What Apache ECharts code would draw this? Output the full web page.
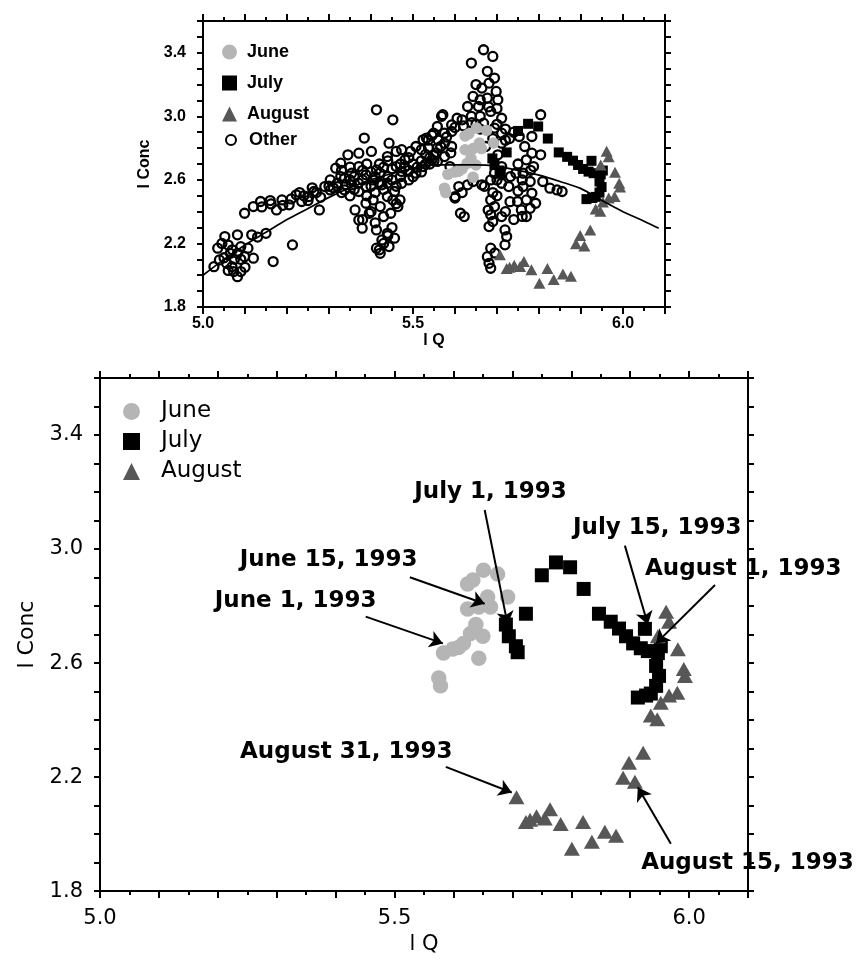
<!DOCTYPE html>
<html><head><meta charset="utf-8">
<script src="https://cdn.jsdelivr.net/npm/echarts@6/dist/echarts.min.js"></script>
<style>html,body{margin:0;padding:0;background:#fff}#c{width:861px;height:960px}</style>
</head><body><div id="c"></div>
<script>
// ---------------- data (l Q, l Conc) ----------------
const juneData = [[5.575,2.548],[5.578,2.52],[5.583,2.635],[5.599,2.649],[5.609,2.655],[5.617,2.669],[5.629,2.704],[5.638,2.735],[5.650,2.694],[5.643,2.617],[5.624,2.79],[5.643,2.797],[5.663,2.797],[5.658,2.832],[5.692,2.832],[5.624,2.877],[5.633,2.891],[5.651,2.926],[5.675,2.912]];
const julyData = [[5.689,2.735],[5.694,2.694],[5.706,2.659],[5.709,2.638],[5.723,2.773],[5.750,2.908],[5.774,2.953],[5.798,2.936],[5.821,2.86],[5.847,2.773],[5.867,2.745],[5.881,2.721],[5.893,2.694],[5.905,2.669],[5.918,2.652],[5.925,2.72],[5.930,2.642],[5.947,2.635],[5.952,2.659],[5.944,2.59],[5.949,2.555],[5.944,2.52],[5.935,2.493],[5.927,2.486],[5.913,2.479]];
const augustData = [[5.961,2.78],[5.966,2.745],[5.947,2.694],[5.981,2.648],[5.991,2.579],[5.993,2.555],[5.98,2.496],[5.966,2.486],[5.952,2.461],[5.935,2.416],[5.946,2.403],[5.922,2.285],[5.898,2.25],[5.888,2.198],[5.908,2.184],[5.707,2.129],[5.723,2.042],[5.73,2.05],[5.741,2.063],[5.755,2.055],[5.764,2.087],[5.782,2.035],[5.82,2.042],[5.801,1.949],[5.835,1.973],[5.857,2.008],[5.876,1.994]];
const otherData = [
 [5.035,2.17],[5.052,2.243],[5.082,2.254],[5.116,2.254],[5.039,2.096],[5.056,2.075],[5.073,2.023],[5.082,1.991],[5.09,2.023],[5.065,2.138],[5.082,2.138],[5.099,2.117],[5.12,2.107],[5.107,2.17],[5.09,2.18],[5.15,2.264],[5.213,2.191],[5.167,2.086],[5.026,2.054],[5.069,2.054],[5.045,2.2],[5.06,2.19],[5.075,2.1],[5.1,2.05],[5.13,2.24],
 [5.05,2.11],[5.07,2.16],[5.09,2.1],[5.06,2.03],
 [5.099,2.39],[5.12,2.432],[5.137,2.464],[5.162,2.449],[5.175,2.411],[5.188,2.474],[5.205,2.443],[5.222,2.506],[5.235,2.464],[5.252,2.495],[5.264,2.527],[5.277,2.411],[5.29,2.558],[5.303,2.537],[5.32,2.558],[5.316,2.674],[5.328,2.705],[5.345,2.758],[5.337,2.611],[5.354,2.642],[5.371,2.768],[5.384,2.863],[5.371,2.684],[5.388,2.632],[5.401,2.779],[5.413,3.041],[5.452,2.978],[5.413,2.663],[5.426,2.569],[5.439,2.747],[5.443,2.831],[5.46,2.779],[5.46,2.684],[5.473,2.653],[5.481,2.726],[5.494,2.779],[5.507,2.81],[5.524,2.852],[5.537,2.8],[5.549,2.758],[5.566,2.81],[5.575,2.894],[5.571,3.01],[5.605,2.988],[5.592,2.905],[5.558,2.716],[5.524,2.684],[5.507,2.642],[5.49,2.6],[5.473,2.579],[5.456,2.527],[5.439,2.579],[5.422,2.642],[5.405,2.6],[5.388,2.558],[5.371,2.527],[5.354,2.569],[5.337,2.537],[5.303,2.6],[5.328,2.621],
 [5.21,2.48],[5.24,2.5],[5.27,2.52],[5.28,2.49],[5.31,2.55],[5.35,2.6],[5.36,2.54],[5.38,2.6],[5.4,2.65],[5.42,2.7],[5.44,2.62],[5.45,2.67],[5.47,2.7],[5.49,2.66],[5.5,2.7],[5.52,2.72],[5.53,2.76],[5.54,2.7],[5.555,2.77],[5.56,2.85],[5.545,2.88],[5.52,2.79],
 [5.32,2.58],[5.33,2.66],[5.34,2.57],[5.35,2.68],[5.36,2.62],[5.37,2.58],[5.38,2.66],[5.39,2.7],[5.4,2.56],[5.41,2.62],[5.42,2.58],[5.43,2.68],[5.44,2.72],[5.45,2.6],[5.46,2.56],[5.47,2.62],[5.48,2.68],[5.49,2.74],[5.5,2.62],[5.51,2.68],[5.52,2.65],[5.53,2.7],[5.54,2.74],[5.55,2.72],[5.43,2.54],[5.41,2.52],[5.39,2.5],[5.35,2.5],[5.33,2.52],[5.3,2.56],[5.26,2.55],[5.25,2.47],[5.23,2.52],[5.19,2.44],[5.16,2.47],[5.14,2.43],
 [5.362,2.411],[5.371,2.348],[5.379,2.296],[5.396,2.39],[5.405,2.474],[5.413,2.285],[5.413,2.17],[5.422,2.138],[5.426,2.222],[5.439,2.264],[5.456,2.233],[5.443,2.18],[5.43,2.369],[5.447,2.39],[5.464,2.432],[5.452,2.474],[5.469,2.474],[5.439,2.495],[5.422,2.432],[5.388,2.453],[5.43,2.2],[5.45,2.3],[5.41,2.33],
 [5.42,2.16],[5.44,2.25],[5.4,2.4],[5.46,2.45],[5.38,2.35],
 [5.532,2.863],[5.558,2.936],[5.592,2.946],[5.617,2.978],[5.549,2.894],[5.575,2.831],[5.558,2.8],[5.545,2.726],[5.575,2.747],[5.592,2.81],[5.588,2.684],[5.6,2.495],[5.613,2.39],[5.622,2.369],[5.609,2.558],[5.63,2.569],[5.643,2.59],[5.664,2.569],
 [5.711,2.831],[5.702,2.758],[5.711,2.684],[5.685,2.6],[5.694,2.642],[5.685,2.474],[5.694,2.432],[5.685,2.38],[5.69,2.338],[5.681,2.306],[5.711,2.369],[5.719,2.285],[5.723,2.243],[5.719,2.191],[5.685,2.17],[5.677,2.117],[5.681,2.075],[5.685,2.044],[5.711,2.579],[5.732,2.621],[5.728,2.558],[5.745,2.642],[5.749,2.464],[5.679,2.41],[5.695,2.14],[5.731,2.463],[5.75,2.53],[5.6,2.486],[5.617,2.52],[5.67,2.56],[5.7,2.6],
 [5.7,2.5],[5.72,2.4],[5.69,2.52],[5.76,2.6],[5.78,2.66],[5.75,2.7],[5.74,2.35],[5.76,2.37],
 [5.804,3.01],[5.783,2.873],[5.753,2.873],[5.783,2.768],[5.77,2.726],[5.787,2.684],[5.762,2.642],[5.779,2.59],[5.762,2.558],[5.783,2.516],[5.77,2.474],[5.779,2.421],[5.77,2.369],[5.792,2.453],[5.758,2.411],[5.766,2.81],[5.804,2.758],
 [5.809,2.59],[5.826,2.548],[5.843,2.537],[5.855,2.527],
 [5.668,3.419],[5.69,3.377],[5.639,3.335],[5.677,3.283],[5.694,3.241],[5.664,3.178],[5.698,3.157],[5.643,3.125],[5.677,3.115],[5.702,3.104],[5.656,3.062],[5.685,3.031],[5.639,3.0],[5.711,2.988],[5.668,2.957],[5.694,2.926],[5.711,2.894],[5.66,3.104],[5.681,3.209],[5.63,3.062],[5.673,2.81],[5.536,2.85],[5.568,3.0],[5.473,2.79],
 [5.65,2.95],[5.7,2.95],[5.72,2.92],[5.74,2.9],[5.73,2.86],
 [5.66,3.0],[5.68,3.06],[5.65,3.2],[5.7,3.05],[5.66,2.92],[5.69,2.86],[5.72,2.85],[5.64,2.96],[5.62,2.94],[5.6,2.93],[5.58,2.87],[5.59,2.77]
];
const fitCurve = [[5.00,2.00],[5.05,2.10],[5.10,2.19],[5.15,2.27],[5.20,2.35],[5.25,2.42],[5.30,2.49],[5.35,2.55],[5.40,2.60],[5.45,2.64],[5.50,2.67],[5.55,2.695],[5.60,2.695],[5.65,2.695],[5.69,2.69],[5.75,2.66],[5.80,2.63],[5.85,2.59],[5.90,2.545],[5.95,2.47],[6.00,2.40],[6.05,2.34],[6.085,2.295]];
const annotTexts = ['June 1, 1993','June 15, 1993','July 1, 1993','July 15, 1993','August 1, 1993','August 15, 1993','August 31, 1993'];
const annotAt = [[5.332,2.818],[5.388,2.96],[5.663,3.2],[5.946,3.074],[6.092,2.929],[6.099,1.897],[5.418,2.288]];
const arrowFrom = [[5.451,2.763],[5.526,2.901],[5.653,3.137],[5.891,3.012],[6.044,2.874],[5.969,1.966],[5.587,2.236]];
const arrowTo = [[5.582,2.669],[5.653,2.808],[5.692,2.735],[5.930,2.735],[5.944,2.669],[5.913,2.164],[5.699,2.146]];
const xTickLabels = ['5.0','5.5','6.0'];
const yTickLabels = ['1.8','2.2','2.6','3.0','3.4'];
const seriesNames = ['June','July','August','Other'];

// ---------------- styling ----------------
const JUNE_C = '#b5b5b5', JULY_C = '#000000', AUG_C = '#575757';
const topFont = {fontFamily:'Liberation Sans', fontWeight:'bold', color:'#000'};
const botFont = {fontFamily:'DejaVu Sans', color:'#000'};

const xFmt = v => { const s = (Math.round(v*10)/10).toFixed(1); return xTickLabels.includes(s) ? s : ''; };
const yFmt = v => { const s = (Math.round(v*10)/10).toFixed(1); return yTickLabels.includes(s) ? s : ''; };

function xAxis(grid, pos, show, font, size, margin, nameGap) {
  return {type:'value', gridIndex:grid, position:pos, min:5.0, max:6.1, interval:0.1,
    axisLine:{show:true, onZero:false, lineStyle:{color:'#000', width:2}},
    axisTick:{show:true, inside:false, length:7, lineStyle:{color:'#000', width:2}},
    minorTick:{show:true, splitNumber:2, length:4, lineStyle:{color:'#000', width:2}},
    splitLine:{show:false}, minorSplitLine:{show:false},
    axisLabel:Object.assign({show:show, formatter:xFmt, margin:margin, fontSize:size}, font),
    name: show ? 'l Q' : '', nameLocation:'middle', nameGap:nameGap,
    nameTextStyle:Object.assign({fontSize:size}, font)};
}
function yAxis(grid, pos, show, font, size, margin, nameGap, nameSize) {
  return {type:'value', gridIndex:grid, position:pos, min:1.8, max:3.6, interval:0.1,
    axisLine:{show:true, onZero:false, lineStyle:{color:'#000', width:2}},
    axisTick:{show:true, inside:false, length:6, lineStyle:{color:'#000', width:2}},
    splitLine:{show:false},
    axisLabel:Object.assign({show:show, formatter:yFmt, margin:margin, fontSize:size}, font),
    name: show ? 'l Conc' : '', nameLocation:'middle', nameGap:nameGap, nameRotate:90,
    nameTextStyle:Object.assign({fontSize:nameSize}, font)};
}

const chart = echarts.init(document.getElementById('c'), null, {renderer:'canvas'});
const option = {
  backgroundColor:'#ffffff',
  animation:false,
  grid:[
    {left:203, top:21, width:462, height:286},
    {left:100, top:378, width:648, height:520}
  ],
  xAxis:[
    xAxis(0,'bottom',true,topFont,16,9,22),
    xAxis(0,'top',false,topFont,16,9,22),
    xAxis(1,'bottom',true,botFont,21,17,41),
    xAxis(1,'top',false,botFont,21,17,41)
  ],
  yAxis:[
    yAxis(0,'left',true,topFont,16,17,45,16),
    yAxis(0,'right',false,topFont,16,17,45,16),
    yAxis(1,'left',true,botFont,21,17,52,22),
    yAxis(1,'right',false,botFont,21,17,52,22)
  ],
  legend:[
    {orient:'vertical', left:217, top:38, itemWidth:15, itemHeight:15, itemGap:13, selectedMode:false,
     data:[{name:seriesNames[0], icon:'circle'},{name:seriesNames[1], icon:'rect'},{name:seriesNames[2], icon:'triangle'}],
     textStyle:Object.assign({fontSize:18, padding:[0,0,0,5]}, topFont)},
    {orient:'vertical', left:220, top:126, itemWidth:10, itemHeight:10, selectedMode:false,
     data:[{name:seriesNames[3], icon:'circle', itemStyle:{color:'rgba(0,0,0,0)', borderColor:'#000', borderWidth:2}}],
     textStyle:Object.assign({fontSize:18, padding:[0,0,0,8]}, topFont)},
    {orient:'vertical', left:118, top:395, itemWidth:17, itemHeight:17, itemGap:7, selectedMode:false,
     data:[{name:seriesNames[0], icon:'circle'},{name:seriesNames[1], icon:'rect'},{name:seriesNames[2], icon:'triangle'}],
     textStyle:Object.assign({fontSize:23, padding:[0,0,0,16]}, botFont)}
  ],
  series:[
    {name:'Other', type:'scatter', xAxisIndex:0, yAxisIndex:0, data:otherData, symbol:'circle', symbolSize:9,
     itemStyle:{color:'rgba(0,0,0,0)', borderColor:'#000', borderWidth:2.3, opacity:1}},
    {name:'June', type:'scatter', xAxisIndex:0, yAxisIndex:0, data:juneData, symbol:'circle', symbolSize:11.5, itemStyle:{color:JUNE_C, opacity:1}},
    {name:'fit', type:'line', xAxisIndex:0, yAxisIndex:0, data:fitCurve, showSymbol:false, symbol:'none', smooth:0.3,
     lineStyle:{color:'#000', width:1.7}},
    {name:'July', type:'scatter', xAxisIndex:0, yAxisIndex:0, data:julyData, symbol:'rect', symbolSize:10, itemStyle:{color:JULY_C, opacity:1}},
    {name:'August', type:'scatter', xAxisIndex:0, yAxisIndex:0, data:augustData, symbol:'triangle', symbolSize:[12,11], itemStyle:{color:AUG_C, opacity:1}},

    {name:'June', type:'scatter', xAxisIndex:2, yAxisIndex:2, data:juneData, symbol:'circle', symbolSize:15.5, itemStyle:{color:JUNE_C, opacity:1}},
    {name:'July', type:'scatter', xAxisIndex:2, yAxisIndex:2, data:julyData, symbol:'rect', symbolSize:14, itemStyle:{color:JULY_C, opacity:1}},
    {name:'August', type:'scatter', xAxisIndex:2, yAxisIndex:2, data:augustData, symbol:'triangle', symbolSize:[16,14], itemStyle:{color:AUG_C, opacity:1},
     markLine:{silent:true, symbol:['none','arrow'], symbolSize:13, animation:false,
       lineStyle:{color:'#000', width:2, type:'solid'}, label:{show:false},
       data: arrowFrom.map((p,i)=>[{coord:p},{coord:arrowTo[i]}])},
     markPoint:{silent:true, symbol:'circle', symbolSize:1, animation:false,
       itemStyle:{color:'rgba(0,0,0,0)'},
       label:{show:true, position:'inside', formatter:'{b}', fontSize:23, fontWeight:'bold', fontFamily:'DejaVu Sans', color:'#000'},
       data: annotTexts.map((t,i)=>({name:t, coord:annotAt[i]}))}}
  ]
};
chart.setOption(option);
</script>
</body></html>
